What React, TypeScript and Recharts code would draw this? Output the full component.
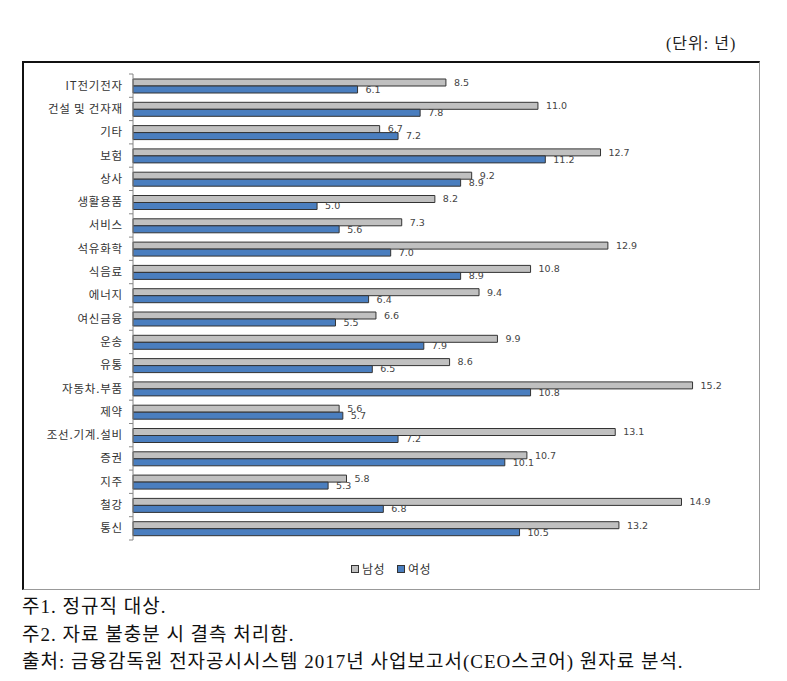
import { BarChart, Bar, XAxis, YAxis, LabelList } from "recharts";

const categories = [
  "IT전기전자",
  "건설 및 건자재",
  "기타",
  "보험",
  "상사",
  "생활용품",
  "서비스",
  "석유화학",
  "식음료",
  "에너지",
  "여신금융",
  "운송",
  "유통",
  "자동차.부품",
  "제약",
  "조선.기계.설비",
  "증권",
  "지주",
  "철강",
  "통신",
];
const male = [8.5, 11.0, 6.7, 12.7, 9.2, 8.2, 7.3, 12.9, 10.8, 9.4, 6.6, 9.9, 8.6, 15.2, 5.6, 13.1, 10.7, 5.8, 14.9, 13.2];
const female = [6.1, 7.8, 7.2, 11.2, 8.9, 5.0, 5.6, 7.0, 8.9, 6.4, 5.5, 7.9, 6.5, 10.8, 5.7, 7.2, 10.1, 5.3, 6.8, 10.5];
const seriesNames = ["남성", "여성"];
const notes = [
  "주1. 정규직 대상.",
  "주2. 자료 불충분 시 결측 처리함.",
  "출처: 금융감독원 전자공시시스템 2017년 사업보고서(CEO스코어) 원자료 분석.",
];

const data = categories.map((c, i) => ({ name: c, male: male[i], female: female[i] }));

const W = 787;
const H = 681;
const AXIS_W = 110;
const MARGIN = { top: 74, right: 65, bottom: 141, left: 133 - AXIS_W };
const BAND = (H - MARGIN.top - MARGIN.bottom) / categories.length;
const GRAY = "#c0c0c0";
const BLUE = "#4a7ebf";
const KFONT = "'Noto Sans CJK KR', sans-serif";
const SERIF = "'Liberation Serif', 'Noto Sans CJK KR', serif";

function CatTick({ x, y, payload, index }: any) {
  return (
    <g>
      <text
        x={x - 10}
        y={y}
        dy={4}
        textAnchor="end"
        fontSize={11.5}
        letterSpacing={0.8}
        fill="#333"
        fontFamily={KFONT}
      >
        {payload.value}
      </text>
      <line x1={x - 4} x2={x} y1={y - BAND / 2} y2={y - BAND / 2} stroke="#868686" />
      {index === categories.length - 1 && (
        <line x1={x - 4} x2={x} y1={y + BAND / 2} y2={y + BAND / 2} stroke="#868686" />
      )}
    </g>
  );
}

const valueLabel = { fontSize: 9.5, fill: "#444", fontFamily: "'DejaVu Sans', sans-serif" };

export default function App() {
  return (
    <div style={{ position: "absolute", left: 0, top: 0, width: W, height: H, background: "#fff" }}>
      <div
        style={{
          position: "absolute",
          left: 666,
          top: 30,
          fontSize: 16,
          fontFamily: SERIF,
          color: "#222",
          whiteSpace: "nowrap",
          letterSpacing: 1,
        }}
      >
        (단위: 년)
      </div>
      <div
        style={{
          position: "absolute",
          left: 22,
          top: 61,
          width: 738,
          height: 529,
          borderTop: "2px solid #111",
          borderLeft: "2px solid #111",
          borderRight: "1px solid #999",
          borderBottom: "1px solid #999",
          boxSizing: "border-box",
        }}
      />
      <div style={{ position: "absolute", left: 0, top: 0 }}>
        <BarChart
          width={W}
          height={H}
          data={data}
          layout="vertical"
          margin={MARGIN}
          barGap={0}
          barSize={7}
        >
          <XAxis type="number" domain={[0, 16]} hide />
          <YAxis
            type="category"
            dataKey="name"
            width={AXIS_W}
            axisLine={{ stroke: "#868686" }}
            tickLine={false}
            tickSize={0}
            tickMargin={0}
            tick={CatTick}
            interval={0}
          />
          <Bar dataKey="male" name={seriesNames[0]} fill={GRAY} stroke="#333" strokeWidth={1} isAnimationActive={false}>
            <LabelList
              dataKey="male"
              position="right"
              offset={8}
              formatter={(v: any) => Number(v).toFixed(1)}
              style={valueLabel}
            />
          </Bar>
          <Bar dataKey="female" name={seriesNames[1]} fill={BLUE} stroke="#333" strokeWidth={1} isAnimationActive={false}>
            <LabelList
              dataKey="female"
              position="right"
              offset={8}
              formatter={(v: any) => Number(v).toFixed(1)}
              style={valueLabel}
            />
          </Bar>
        </BarChart>
      </div>
      <div
        style={{
          position: "absolute",
          left: 0,
          width: W - 5,
          top: 560,
          display: "flex",
          justifyContent: "center",
          gap: 12,
          fontSize: 12,
          fontFamily: KFONT,
          color: "#333",
        }}
      >
        {seriesNames.map((n, i) => (
          <span key={n} style={{ display: "flex", alignItems: "center", letterSpacing: 0.5 }}>
            <span
              style={{
                display: "inline-block",
                width: 6,
                height: 6,
                background: i === 0 ? GRAY : BLUE,
                border: "1px solid #333",
                marginRight: 3,
              }}
            />
            {n}
          </span>
        ))}
      </div>
      {notes.map((t, i) => (
        <div
          key={i}
          style={{
            position: "absolute",
            left: 22,
            top: 591 + i * 27.5,
            fontSize: 19,
            fontFamily: SERIF,
            color: "#111",
            whiteSpace: "nowrap",
            letterSpacing: 1,
          }}
        >
          {t}
        </div>
      ))}
    </div>
  );
}
